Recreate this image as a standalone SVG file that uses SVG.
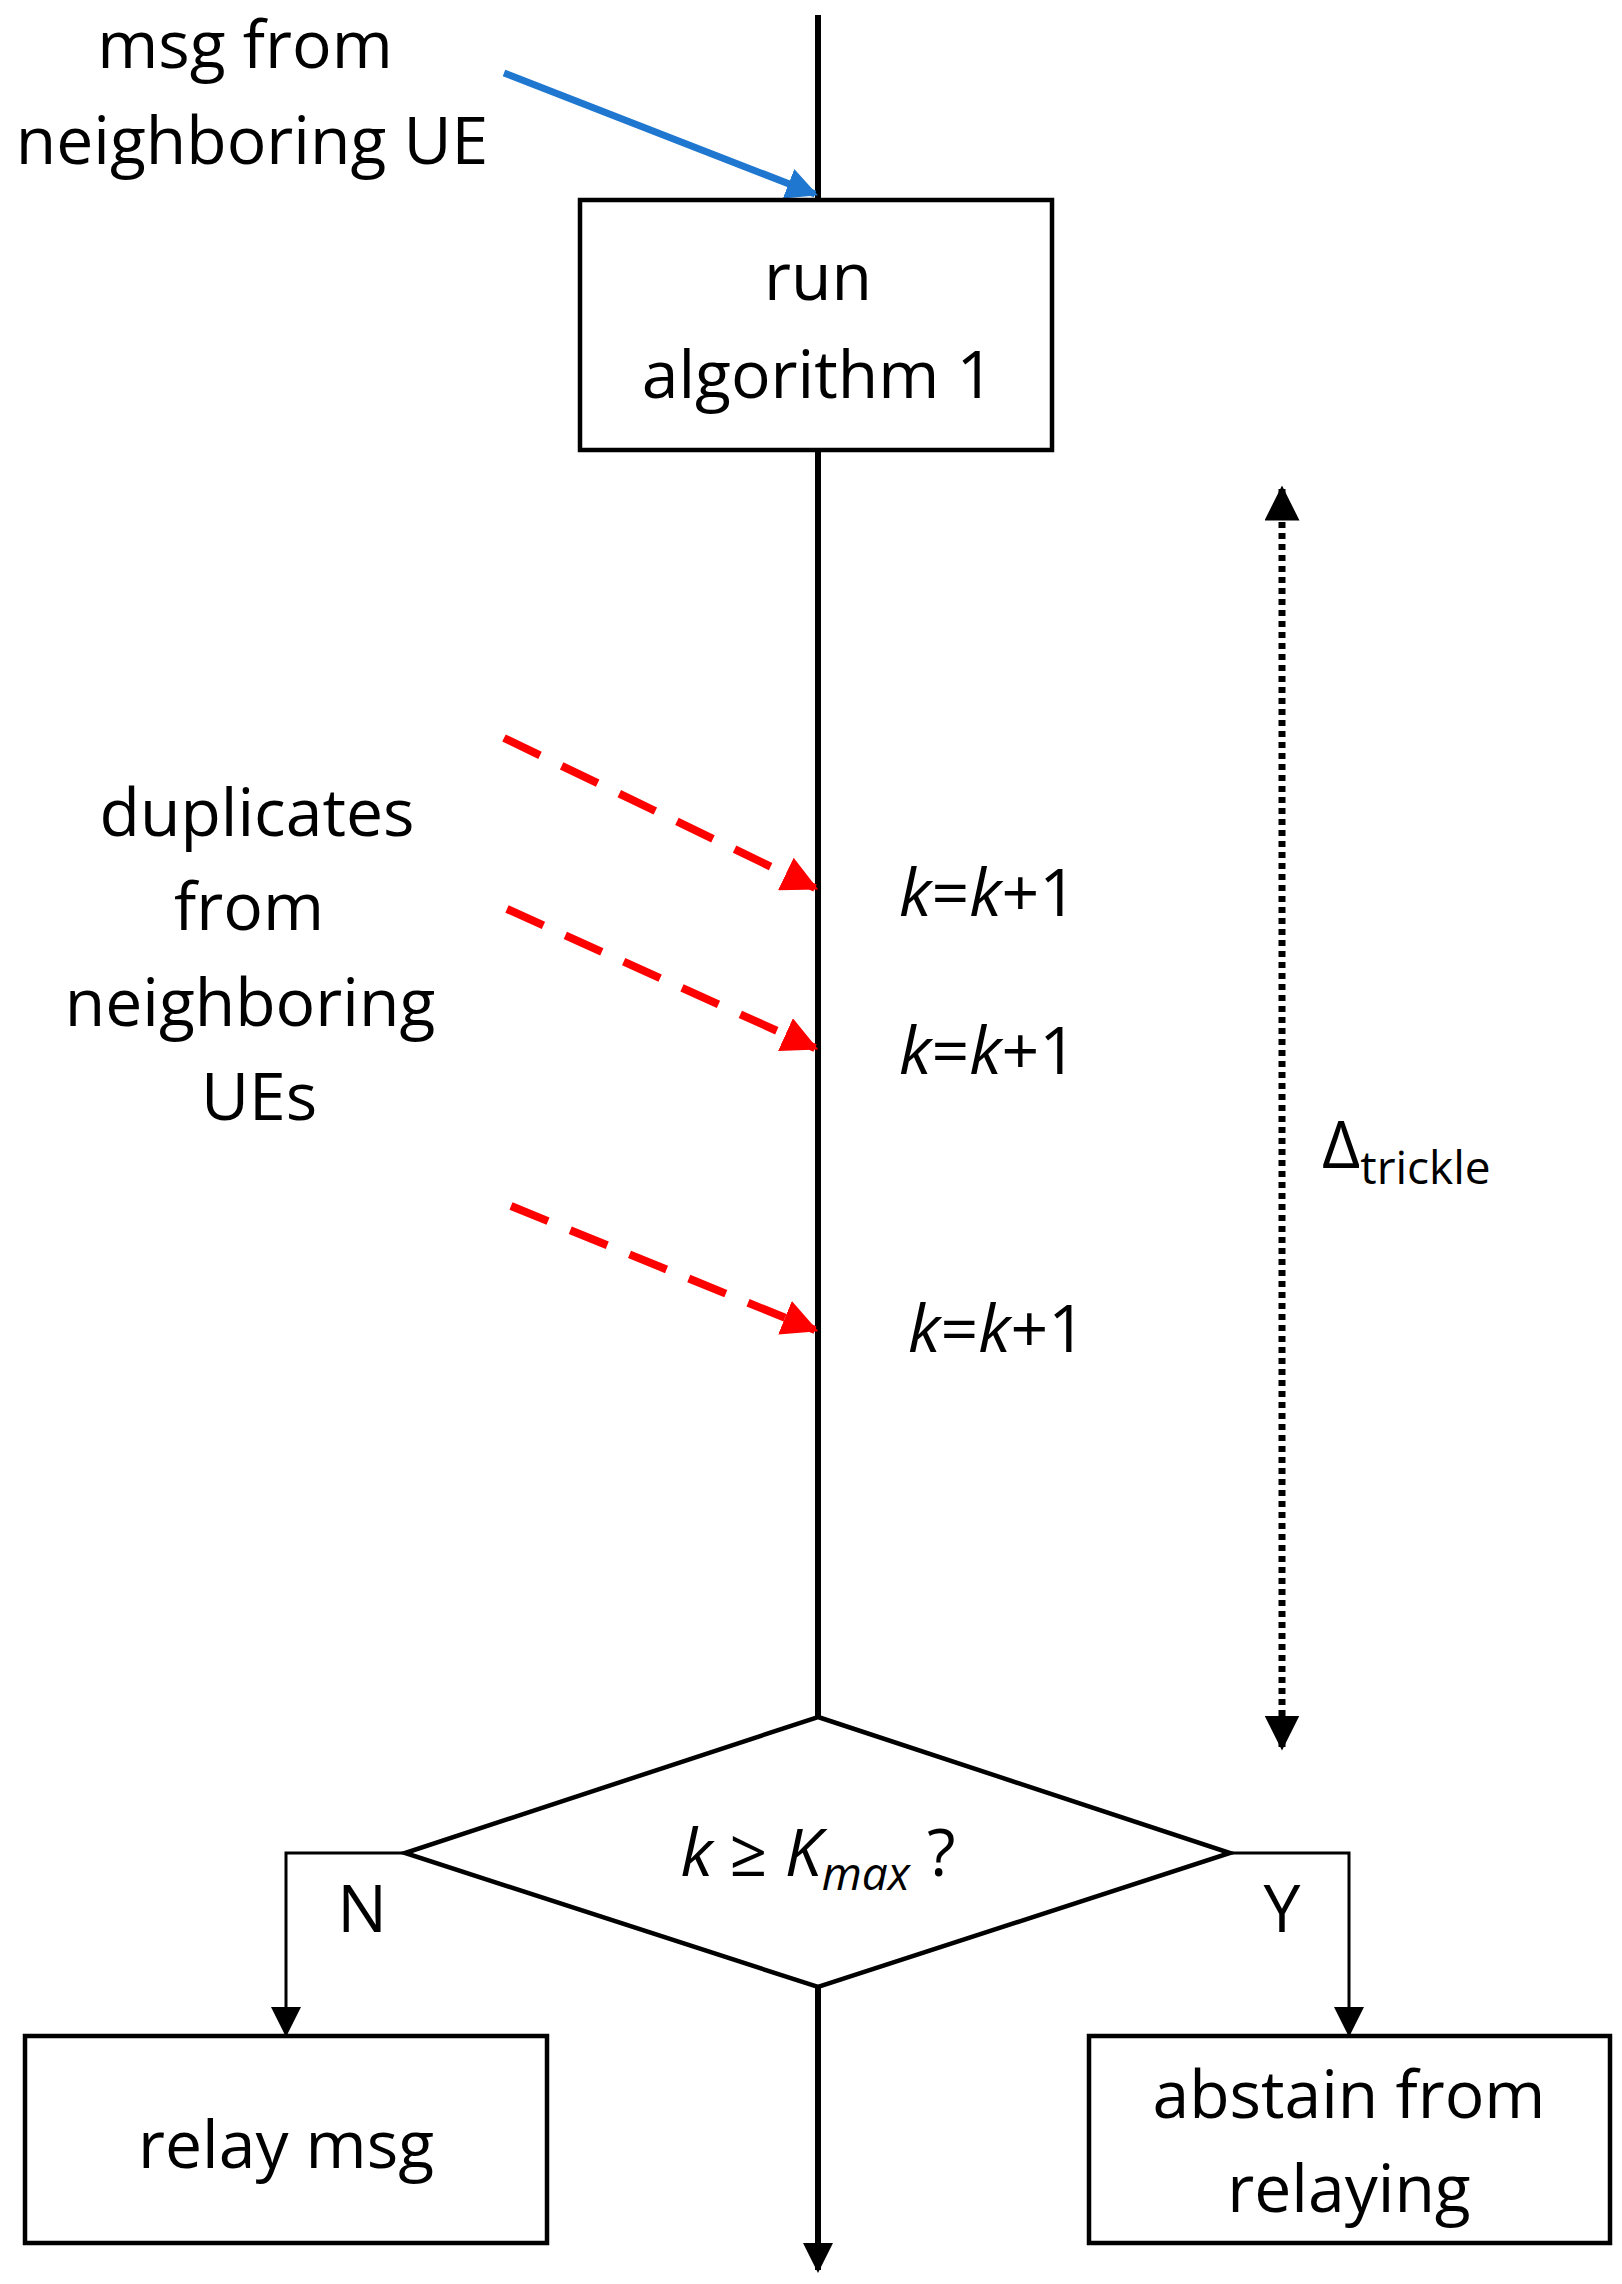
<svg xmlns="http://www.w3.org/2000/svg" width="1622" height="2284" viewBox="0 0 1622 2284">
<style>
text{font-family:"Open Sans","Liberation Sans",sans-serif;font-size:66px;fill:#000;text-anchor:middle}
.box{fill:#fff;stroke:#000;stroke-width:4.5}
.it{font-style:italic}
</style>
<defs>
<marker id="ab" viewBox="0 0 10 10" refX="9" refY="5" markerWidth="5" markerHeight="5" orient="auto-start-reverse"><path d="M0,0L10,5L0,10z" fill="#000"/></marker>
<marker id="ab2" viewBox="0 0 10 10" refX="9" refY="5" markerWidth="10" markerHeight="10" orient="auto" markerUnits="strokeWidth"><path d="M0,0L10,5L0,10z" fill="#000"/></marker>
<marker id="abl" viewBox="0 0 10 10" refX="9" refY="5" markerWidth="4.5" markerHeight="4.5" orient="auto"><path d="M0,0L10,5L0,10z" fill="#1f77d0"/></marker>
<marker id="ar" viewBox="0 0 10 10" refX="9" refY="5" markerWidth="4.5" markerHeight="4.5" orient="auto"><path d="M0,0L10,5L0,10z" fill="#f00"/></marker>
</defs>
<g id="connectors" fill="none">
<line x1="818" y1="15" x2="818" y2="200" stroke="#000" stroke-width="6"/>
<line x1="818" y1="450" x2="818" y2="1717" stroke="#000" stroke-width="6"/>
<line x1="818" y1="1987" x2="818" y2="2270" stroke="#000" stroke-width="6" marker-end="url(#ab)"/>
<polyline points="405,1853 286,1853 286,2034" stroke="#000" stroke-width="3" marker-end="url(#ab2)"/>
<polyline points="1230,1853 1349,1853 1349,2034" stroke="#000" stroke-width="3" marker-end="url(#ab2)"/>
<line x1="504" y1="73" x2="815" y2="194" stroke="#1f77d0" stroke-width="7" marker-end="url(#abl)"/>
<line x1="504" y1="738" x2="815" y2="888" stroke="#f00" stroke-width="8" stroke-dasharray="40,24" marker-end="url(#ar)"/>
<line x1="507" y1="909" x2="815" y2="1048" stroke="#f00" stroke-width="8" stroke-dasharray="40,24" marker-end="url(#ar)"/>
<line x1="511" y1="1206" x2="815" y2="1330" stroke="#f00" stroke-width="8" stroke-dasharray="40,24" marker-end="url(#ar)"/>
<line x1="1282" y1="489" x2="1282" y2="1747" stroke="#000" stroke-width="7" stroke-dasharray="6,5" marker-start="url(#ab)" marker-end="url(#ab)"/>
</g>
<g id="algo"><rect class="box" x="580" y="200" width="472" height="250"/><text x="818" y="300">run</text><text x="818" y="398">algorithm 1</text></g>
<g id="decision"><polygon class="box" points="818,1717 1230,1853 818,1987 405,1853"/><text x="818" y="1876"><tspan class="it">k</tspan> ≥ <tspan class="it">K</tspan><tspan class="it" font-size="46" dy="14">max</tspan><tspan dy="-14"> ?</tspan></text></g>
<g id="relay"><rect class="box" x="25" y="2036" width="522" height="207"/><text x="286" y="2168">relay msg</text></g>
<g id="abstain"><rect class="box" x="1089" y="2036" width="521" height="207"/><text x="1349" y="2118">abstain from</text><text x="1349" y="2212">relaying</text></g>
<g id="labels">
<text x="245" y="68">msg from</text><text x="252" y="164">neighboring UE</text>
<text x="257" y="836">duplicates</text><text x="249" y="930">from</text><text x="250" y="1026">neighboring</text><text x="259" y="1120">UEs</text>
<text x="988" y="916"><tspan class="it">k</tspan>=<tspan class="it">k</tspan>+1</text>
<text x="988" y="1074"><tspan class="it">k</tspan>=<tspan class="it">k</tspan>+1</text>
<text x="997" y="1352"><tspan class="it">k</tspan>=<tspan class="it">k</tspan>+1</text>
<text x="1322" y="1168" style="text-anchor:start">Δ<tspan font-size="46" dy="16">trickle</tspan></text>
<text x="362" y="1932">N</text><text x="1282" y="1932">Y</text>
</g>
</svg>
